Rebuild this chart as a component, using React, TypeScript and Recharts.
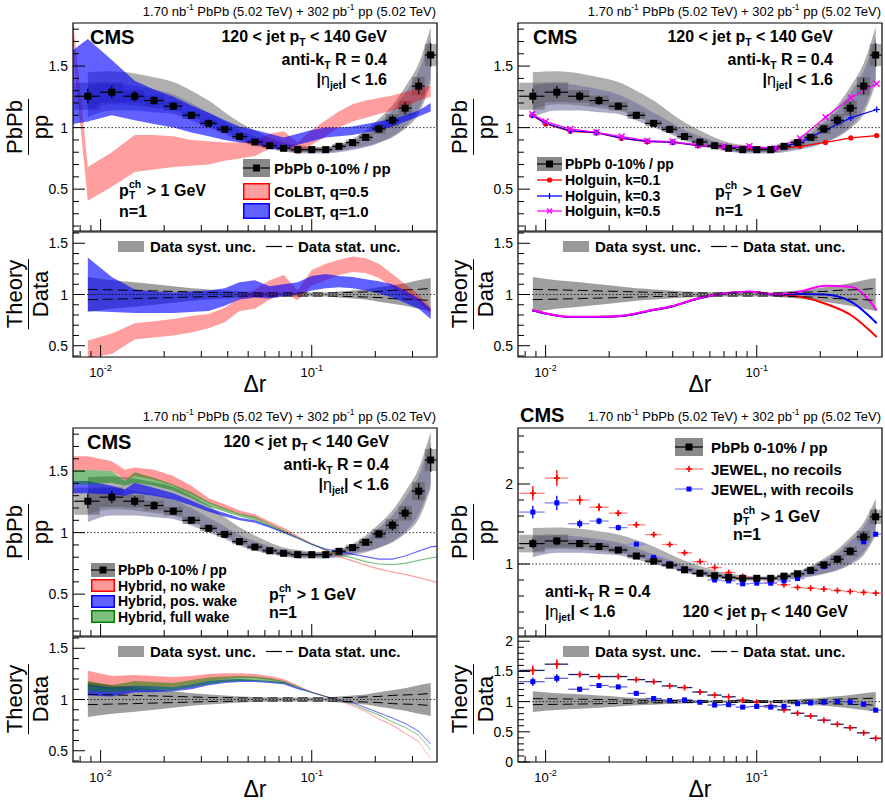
import React from "react";
import {
  ComposedChart,
  Area,
  Line,
  Scatter,
  ErrorBar,
  XAxis,
  YAxis,
  ReferenceLine,
  ReferenceArea,
} from "recharts";

const FONT = '"Liberation Sans", Arial, Helvetica, sans-serif';
const W = 445;
const MAIN_H = 232;
const RATIO_H = 184;
const X_DOMAIN = [0.0074, 0.392];

// Δr binning
const binEdges = [0.0075, 0.0099, 0.0128, 0.0161, 0.0199, 0.0244, 0.0296, 0.0355, 0.042, 0.0495, 0.0584, 0.0683, 0.0795, 0.0926, 0.108, 0.125, 0.145, 0.168, 0.194, 0.224, 0.258, 0.298, 0.343, 0.39];
const binCenters = [0.0087, 0.0113, 0.0145, 0.0179, 0.0221, 0.0269, 0.0325, 0.0387, 0.0455, 0.0538, 0.0632, 0.0736, 0.0858, 0.1, 0.1165, 0.1346, 0.156, 0.18, 0.208, 0.241, 0.277, 0.321, 0.366];
const xTicks = [0.008, 0.009, 0.01, 0.02, 0.03, 0.04, 0.05, 0.06, 0.07, 0.08, 0.09, 0.1, 0.2, 0.3];

// PbPb 0-10% / pp
const pbpb = [1.255, 1.288, 1.255, 1.22, 1.174, 1.1, 1.035, 0.986, 0.927, 0.883, 0.853, 0.832, 0.821, 0.821, 0.821, 0.848, 0.878, 0.921, 0.989, 1.06, 1.158, 1.337, 1.59];
const pbpbStat = [0.06, 0.05, 0.04, 0.035, 0.03, 0.025, 0.02, 0.018, 0.015, 0.013, 0.013, 0.012, 0.012, 0.012, 0.012, 0.014, 0.017, 0.022, 0.03, 0.04, 0.05, 0.065, 0.095];
const pbpbBox = [0.11, 0.08, 0.05, 0.04, 0.035, 0.03, 0.025, 0.02, 0.02, 0.02, 0.018, 0.018, 0.018, 0.018, 0.018, 0.02, 0.025, 0.03, 0.04, 0.05, 0.06, 0.075, 0.09];
const greyLo = [1.15, 1.19, 1.18, 1.16, 1.14, 1.09, 1.03, 0.97, 0.91, 0.865, 0.835, 0.815, 0.8, 0.8, 0.8, 0.81, 0.83, 0.85, 0.88, 0.92, 0.99, 1.11, 1.356];
const greyHi = [1.45, 1.457, 1.44, 1.41, 1.37, 1.3, 1.22, 1.125, 1.043, 0.976, 0.92, 0.88, 0.86, 0.845, 0.845, 0.867, 0.908, 0.976, 1.07, 1.18, 1.33, 1.52, 1.82];
const slateLo = [1.084, 1.14, 1.14, 1.125, 1.11, 1.057, 1.0, 0.95, 0.894, 0.853, 0.826, 0.807, 0.79, 0.79, 0.79, 0.8, 0.818, 0.84, 0.875, 0.93, 1.01, 1.15, 1.4];
const slateHi = [1.34, 1.36, 1.34, 1.31, 1.27, 1.2, 1.12, 1.05, 0.98, 0.93, 0.89, 0.86, 0.845, 0.835, 0.835, 0.855, 0.89, 0.95, 1.04, 1.14, 1.28, 1.46, 1.74];

// Theory/Data reference bands
const ratioSysLo = [0.83, 0.86, 0.88, 0.9, 0.92, 0.94, 0.95, 0.96, 0.97, 0.975, 0.98, 0.98, 0.98, 0.98, 0.98, 0.97, 0.96, 0.95, 0.93, 0.91, 0.89, 0.86, 0.84];
const ratioSysHi = [1.17, 1.14, 1.12, 1.1, 1.08, 1.06, 1.05, 1.04, 1.03, 1.025, 1.02, 1.02, 1.02, 1.02, 1.02, 1.03, 1.04, 1.05, 1.07, 1.09, 1.11, 1.14, 1.16];
const ratioStatLo = [0.95, 0.955, 0.96, 0.965, 0.97, 0.975, 0.98, 0.982, 0.984, 0.985, 0.985, 0.985, 0.985, 0.985, 0.985, 0.983, 0.98, 0.975, 0.97, 0.96, 0.955, 0.95, 0.94];
const ratioStatHi = [1.05, 1.045, 1.04, 1.035, 1.03, 1.025, 1.02, 1.018, 1.016, 1.015, 1.015, 1.015, 1.015, 1.015, 1.015, 1.017, 1.02, 1.025, 1.03, 1.04, 1.045, 1.05, 1.06];

// CoLBT
const colbtX = [0.0074, 0.0087, 0.0113, 0.0145, 0.0179, 0.0221, 0.0269, 0.0325, 0.0387, 0.0455, 0.0538, 0.0632, 0.0736, 0.0858, 0.1, 0.1165, 0.1346, 0.156, 0.18, 0.208, 0.241, 0.277, 0.321, 0.366];
const colbt05Lo = [1.62, 0.405, 0.52, 0.64, 0.66, 0.68, 0.69, 0.7, 0.73, 0.75, 0.77, 0.83, 0.87, 0.78, 0.86, 0.93, 1.0, 1.05, 1.08, 1.11, 1.14, 1.17, 1.22, 1.25];
const colbt05Hi = [1.88, 0.68, 0.8, 0.94, 0.94, 0.93, 0.9, 0.89, 0.88, 0.88, 0.9, 0.95, 0.97, 0.88, 0.98, 1.06, 1.13, 1.19, 1.22, 1.24, 1.26, 1.29, 1.32, 1.34];
const colbt10Lo = [1.03, 1.05, 1.1, 1.06, 1.03, 1.0, 0.96, 0.93, 0.9, 0.88, 0.87, 0.83, 0.82, 0.86, 0.89, 0.92, 0.93, 0.94, 0.96, 0.98, 1.01, 1.05, 1.09, 1.13];
const colbt10Hi = [1.63, 1.72, 1.55, 1.38, 1.31, 1.25, 1.18, 1.12, 1.06, 1.01, 0.98, 0.95, 0.92, 0.95, 0.98, 1.0, 1.0, 1.01, 1.03, 1.05, 1.07, 1.1, 1.14, 1.2];
const colbt05RatioLo = [0.38, 0.42, 0.56, 0.58, 0.6, 0.63, 0.67, 0.73, 0.84, 0.86, 0.95, 1.02, 0.945, 1.09, 1.14, 1.19, 1.22, 1.21, 1.16, 1.07, 0.99, 0.93, 0.81];
const colbt05RatioHi = [0.55, 0.62, 0.72, 0.74, 0.76, 0.79, 0.81, 0.87, 0.97, 1.05, 1.14, 1.19, 1.04, 1.24, 1.3, 1.34, 1.37, 1.355, 1.3, 1.2, 1.1, 1.0, 0.87];
const colbt10RatioLo = [0.84, 0.83, 0.82, 0.82, 0.82, 0.83, 0.84, 0.89, 0.95, 0.97, 0.96, 0.98, 1.0, 1.04, 1.06, 1.07, 1.06, 1.04, 1.01, 0.97, 0.92, 0.86, 0.76];
const colbt10RatioHi = [1.36, 1.17, 1.05, 1.03, 1.02, 1.03, 1.04, 1.06, 1.12, 1.14, 1.08, 1.1, 1.12, 1.18, 1.2, 1.18, 1.17, 1.15, 1.13, 1.1, 1.04, 0.96, 0.86];

// Holguin
const holguinX = [0.00865, 0.01, 0.0131, 0.0174, 0.0229, 0.0303, 0.04, 0.0527, 0.07, 0.0923, 0.1217, 0.1605, 0.2115, 0.279, 0.37];
const holguinK01 = [1.098, 1.03, 0.97, 0.957, 0.913, 0.886, 0.88, 0.853, 0.84, 0.84, 0.826, 0.848, 0.88, 0.916, 0.935];
const holguinK03 = [1.1, 1.035, 0.975, 0.96, 0.915, 0.888, 0.882, 0.855, 0.843, 0.84, 0.83, 0.88, 0.981, 1.079, 1.147];
const holguinK05 = [1.109, 1.049, 0.989, 0.962, 0.927, 0.894, 0.886, 0.859, 0.848, 0.848, 0.832, 0.913, 1.084, 1.242, 1.356];
const holguinK01Ratio = [0.846, 0.814, 0.78, 0.78, 0.79, 0.837, 0.886, 0.96, 1.01, 1.026, 1.0, 0.977, 0.91, 0.8, 0.585];
const holguinK03Ratio = [0.846, 0.814, 0.78, 0.78, 0.79, 0.837, 0.886, 0.96, 1.01, 1.026, 1.0, 1.006, 1.0, 0.93, 0.72];
const holguinK05Ratio = [0.85, 0.818, 0.783, 0.783, 0.793, 0.84, 0.889, 0.963, 1.013, 1.028, 1.003, 1.03, 1.085, 1.075, 0.846];

// Hybrid
const hybX = [0.0074, 0.0087, 0.0113, 0.013, 0.0145, 0.0179, 0.0221, 0.0269, 0.0325, 0.0387, 0.0455, 0.0538, 0.0632, 0.0736, 0.0858, 0.1, 0.1165, 0.1346, 0.156, 0.18, 0.208, 0.241, 0.277, 0.321, 0.366, 0.392];
const hybNoWakeLo = [1.51, 1.51, 1.5, 1.43, 1.46, 1.43, 1.38, 1.31, 1.24, 1.19, 1.15, 1.12, 1.065, 1.01, 0.96, 0.905, 0.85, 0.8, 0.765, 0.73, 0.7, 0.675, 0.655, 0.63, 0.605, 0.59];
const hybNoWakeHi = [1.62, 1.62, 1.58, 1.51, 1.53, 1.51, 1.46, 1.38, 1.28, 1.23, 1.18, 1.15, 1.09, 1.04, 0.975, 0.915, 0.86, 0.81, 0.775, 0.74, 0.71, 0.685, 0.665, 0.64, 0.615, 0.6];
const hybPosLo = [1.32, 1.32, 1.31, 1.3, 1.32, 1.3, 1.27, 1.22, 1.17, 1.13, 1.1, 1.08, 1.04, 0.995, 0.95, 0.9, 0.86, 0.84, 0.82, 0.8, 0.78, 0.78, 0.805, 0.845, 0.88, 0.885];
const hybPosHi = [1.42, 1.42, 1.38, 1.35, 1.405, 1.365, 1.32, 1.26, 1.2, 1.16, 1.12, 1.1, 1.055, 1.01, 0.96, 0.91, 0.87, 0.85, 0.83, 0.81, 0.79, 0.79, 0.815, 0.855, 0.89, 0.895];
const hybFullLo = [1.39, 1.39, 1.405, 1.38, 1.405, 1.38, 1.34, 1.28, 1.21, 1.17, 1.13, 1.1, 1.05, 1.0, 0.955, 0.9, 0.855, 0.815, 0.79, 0.76, 0.74, 0.735, 0.745, 0.77, 0.79, 0.795];
const hybFullHi = [1.51, 1.51, 1.5, 1.42, 1.49, 1.445, 1.39, 1.33, 1.25, 1.2, 1.155, 1.13, 1.07, 1.02, 0.965, 0.91, 0.865, 0.825, 0.8, 0.77, 0.75, 0.745, 0.755, 0.78, 0.8, 0.805];
const hybNoWakeRatioLo = [1.13, 1.1, 1.12, 1.12, 1.12, 1.15, 1.18, 1.2, 1.21, 1.21, 1.19, 1.17, 1.125, 1.065, 1.025, 0.985, 0.935, 0.88, 0.805, 0.745, 0.665, 0.585, 0.415];
const hybNoWakeRatioHi = [1.28, 1.23, 1.24, 1.23, 1.22, 1.23, 1.25, 1.255, 1.255, 1.25, 1.23, 1.2, 1.14, 1.075, 1.035, 0.995, 0.945, 0.89, 0.815, 0.755, 0.675, 0.595, 0.425];
const hybPosRatioLo = [1.04, 1.03, 1.07, 1.07, 1.08, 1.1, 1.14, 1.16, 1.17, 1.17, 1.16, 1.15, 1.1, 1.065, 1.025, 0.985, 0.965, 0.915, 0.865, 0.815, 0.76, 0.685, 0.56];
const hybPosRatioHi = [1.15, 1.12, 1.135, 1.13, 1.12, 1.15, 1.18, 1.195, 1.2, 1.19, 1.18, 1.17, 1.12, 1.075, 1.035, 0.995, 0.975, 0.925, 0.875, 0.825, 0.77, 0.695, 0.57];
const hybFullRatioLo = [1.08, 1.07, 1.09, 1.09, 1.09, 1.12, 1.15, 1.17, 1.18, 1.18, 1.17, 1.155, 1.115, 1.06, 1.025, 0.985, 0.95, 0.895, 0.845, 0.775, 0.725, 0.645, 0.505];
const hybFullRatioHi = [1.18, 1.14, 1.18, 1.17, 1.16, 1.19, 1.215, 1.225, 1.23, 1.225, 1.21, 1.18, 1.13, 1.07, 1.035, 0.995, 0.96, 0.905, 0.855, 0.785, 0.735, 0.655, 0.515];

// JEWEL
const jewelNoRec = [1.884, 2.074, 1.8, 1.71, 1.636, 1.49, 1.368, 1.244, 1.14, 1.03, 0.955, 0.893, 0.843, 0.815, 0.77, 0.74, 0.707, 0.698, 0.686, 0.669, 0.657, 0.645, 0.636];
const jewelNoRecErr = [0.09, 0.1, 0.06, 0.05, 0.04, 0.03, 0.025, 0.02, 0.02, 0.018, 0.015, 0.015, 0.012, 0.012, 0.01, 0.01, 0.01, 0.01, 0.01, 0.01, 0.01, 0.01, 0.01];
const jewelRec = [1.649, 1.764, 1.504, 1.537, 1.455, 1.248, 1.083, 1.0, 0.934, 0.884, 0.8, 0.789, 0.752, 0.76, 0.76, 0.789, 0.818, 0.905, 0.967, 1.058, 1.153, 1.277, 1.372];
const jewelRecErr = [0.08, 0.09, 0.05, 0.04, 0.035, 0.025, 0.02, 0.02, 0.015, 0.015, 0.012, 0.012, 0.012, 0.012, 0.012, 0.012, 0.012, 0.012, 0.015, 0.015, 0.02, 0.02, 0.02];
const jewelNoRecRatio = [1.517, 1.62, 1.449, 1.415, 1.415, 1.364, 1.33, 1.26, 1.233, 1.159, 1.108, 1.08, 1.023, 0.989, 0.932, 0.864, 0.807, 0.761, 0.693, 0.625, 0.568, 0.483, 0.392];
const jewelNoRecRatioErr = [0.08, 0.08, 0.05, 0.04, 0.035, 0.03, 0.03, 0.025, 0.025, 0.025, 0.025, 0.025, 0.025, 0.025, 0.025, 0.025, 0.025, 0.025, 0.025, 0.025, 0.025, 0.025, 0.025];
const jewelRecRatio = [1.33, 1.386, 1.205, 1.267, 1.244, 1.136, 1.051, 1.017, 1.028, 0.989, 0.943, 0.949, 0.909, 0.92, 0.909, 0.92, 0.966, 0.977, 0.989, 1.0, 0.994, 0.955, 0.858];
const jewelRecRatioErr = [0.07, 0.07, 0.04, 0.035, 0.03, 0.025, 0.02, 0.02, 0.02, 0.02, 0.02, 0.02, 0.02, 0.02, 0.02, 0.02, 0.02, 0.02, 0.02, 0.02, 0.02, 0.02, 0.025];

// y axes
const topMainDomain = [0.16, 1.85];
const topMainTicks = [0.2, 0.3, 0.4, 0.5, 0.6, 0.7, 0.8, 0.9, 1, 1.1, 1.2, 1.3, 1.4, 1.5, 1.6, 1.7, 1.8];
const ratioDomain = [0.39, 1.61];
const ratioTicks = [0.4, 0.5, 0.6, 0.7, 0.8, 0.9, 1, 1.1, 1.2, 1.3, 1.4, 1.5, 1.6];
const halfLabels = [0.5, 1, 1.5];
const jewelMainDomain = [0.1, 2.7];
const jewelMainTicks = [0.2, 0.4, 0.6, 0.8, 1, 1.2, 1.4, 1.6, 1.8, 2, 2.2, 2.4, 2.6];
const jewelMainLabels = [1, 2];
const jewelRatioDomain = [0, 2.07];
const jewelRatioTicks = [0, 0.1, 0.2, 0.3, 0.4, 0.5, 0.6, 0.7, 0.8, 0.9, 1, 1.1, 1.2, 1.3, 1.4, 1.5, 1.6, 1.7, 1.8, 1.9, 2];
const jewelRatioLabels = [0, 0.5, 1, 1.5, 2];

const RED = "#ff0000";
const BLUE = "#0000ff";
const GREEN = "#008000";
const MAGENTA = "#ff00ff";

const dataRows = binCenters.map((x, i) => ({
  x,
  y: pbpb[i],
  yErr: pbpbStat[i],
  xErr: [x - binEdges[i], binEdges[i + 1] - x],
  grey: [greyLo[i], greyHi[i]],
  slate: [slateLo[i], slateHi[i]],
}));

const ratioRows = binCenters.map((x, i) => ({
  x,
  sys: [ratioSysLo[i], ratioSysHi[i]],
  statLo: ratioStatLo[i],
  statHi: ratioStatHi[i],
}));

function renderXTick(p: any, labels: boolean) {
  const v = p.payload.value;
  const e = Math.round(Math.log10(v));
  const major = Math.abs(Math.log10(v) - e) < 1e-6;
  return (
    <g>
      <line x1={p.x} x2={p.x} y1={p.y} y2={p.y - (major ? 12 : 6)} stroke="#000" strokeWidth={1} />
      {labels && major && (
        <text x={p.x} y={p.y + 20} textAnchor="middle" fontFamily={FONT} fontSize={13} fill="#000">
          10<tspan dy={-6} fontSize={9}>{String(e)}</tspan>
        </text>
      )}
    </g>
  );
}

function renderYTick(p: any, labels: number[]) {
  const v = p.payload.value;
  const major = labels.some((l) => Math.abs(l - v) < 1e-9);
  return (
    <g>
      <line x1={p.x} x2={p.x + (major ? 12 : 6)} y1={p.y} y2={p.y} stroke="#000" strokeWidth={1} />
      {major && (
        <text x={p.x - 5} y={p.y} dy="0.36em" textAnchor="end" fontFamily={FONT} fontSize={14} fill="#000">
          {String(v)}
        </text>
      )}
    </g>
  );
}

const xAxis = (labels: boolean) => (
  <XAxis
    key="xa"
    dataKey="x"
    type="number"
    scale="log"
    domain={X_DOMAIN}
    allowDataOverflow
    ticks={xTicks}
    interval={0}
    height={1}
    tickSize={0}
    tickMargin={0}
    axisLine={false}
    tickLine={false}
    tick={(p: any) => renderXTick(p, labels)}
  />
);

const yAxis = (domain: number[], ticks: number[], labels: number[]) => (
  <YAxis
    key="ya"
    type="number"
    domain={domain}
    allowDataOverflow
    ticks={ticks}
    interval={0}
    width={1}
    tickSize={0}
    tickMargin={0}
    axisLine={false}
    tickLine={false}
    tick={(p: any) => renderYTick(p, labels)}
  />
);

const frame = (d: number[]) => (
  <ReferenceArea key="frame" x1={X_DOMAIN[0]} x2={X_DOMAIN[1]} y1={d[0]} y2={d[1]} fill="none" stroke="#000" strokeWidth={1.2} ifOverflow="visible" />
);

const oneLine = () => (
  <ReferenceLine key="one" y={1} stroke="#000" strokeWidth={0.8} strokeDasharray="1.5 2" />
);

function band(key: string, xs: number[], lo: number[], hi: number[], color: string, opacity: number, curve = "linear") {
  const rows = xs.map((x, i) => ({ x, v: [lo[i], hi[i]] }));
  return (
    <Area key={key} data={rows} dataKey="v" type={curve as any} fill={color} fillOpacity={opacity} stroke="none" isAnimationActive={false} activeDot={false} />
  );
}

const squareShape = (p: any) => <rect x={p.cx - 3.5} y={p.cy - 3.5} width={7} height={7} fill="#000" />;

function dataLayer() {
  return [
    <Area key="dg" data={dataRows} dataKey="grey" type="monotone" fill="#7a7a7a" fillOpacity={0.6} stroke="none" isAnimationActive={false} activeDot={false} />,
    <Area key="ds" data={dataRows} dataKey="slate" type="monotone" fill="#6a6a9a" fillOpacity={0.55} stroke="none" isAnimationActive={false} activeDot={false} />,
    ...dataRows.map((r, i) => (
      <ReferenceArea key={"box" + i} x1={binEdges[i]} x2={binEdges[i + 1]} y1={r.y - pbpbBox[i]} y2={r.y + pbpbBox[i]} fill="#505050" fillOpacity={0.45} stroke="none" ifOverflow="hidden" />
    )),
  ];
}

function dataPoints() {
  return (
    <Scatter key="pts" data={dataRows} dataKey="y" shape={squareShape} isAnimationActive={false}>
      <ErrorBar dataKey="xErr" direction="x" width={0} stroke="#000" strokeWidth={1.2} />
      <ErrorBar dataKey="yErr" direction="y" width={0} stroke="#000" strokeWidth={1.2} />
    </Scatter>
  );
}

function MainPlot({ domain, ticks, labels, children }: any) {
  return (
    <div style={{ position: "absolute", left: 0, top: 0 }}>
      <ComposedChart width={W} height={MAIN_H} margin={{ top: 23, right: 8, bottom: 0, left: 72 }}>
        {xAxis(false)}
        {yAxis(domain, ticks, labels)}
        {dataLayer()}
        {children}
        {oneLine()}
        {dataPoints()}
        {frame(domain)}
      </ComposedChart>
    </div>
  );
}

function RatioPlot({ domain, ticks, labels, children }: any) {
  return (
    <div style={{ position: "absolute", left: 0, top: 221 }}>
      <ComposedChart width={W} height={RATIO_H} margin={{ top: 11, right: 8, bottom: 47, left: 72 }}>
        {xAxis(true)}
        {yAxis(domain, ticks, labels)}
        <Area data={ratioRows} dataKey="sys" type="monotone" fill="#999999" fillOpacity={0.95} stroke="none" isAnimationActive={false} activeDot={false} />
        {children}
        <Line data={ratioRows} dataKey="statHi" type="monotone" stroke="#000" strokeWidth={1} strokeDasharray="10 5" dot={false} activeDot={false} isAnimationActive={false} />
        <Line data={ratioRows} dataKey="statLo" type="monotone" stroke="#000" strokeWidth={1} strokeDasharray="10 5" dot={false} activeDot={false} isAnimationActive={false} />
        {oneLine()}
        {frame(domain)}
      </ComposedChart>
    </div>
  );
}

// markers
const circleDot = (color: string) => (p: any) => <circle key={p.index} cx={p.cx} cy={p.cy} r={2.6} fill={color} />;
const plusDot = (color: string, s = 3.5, w = 1.5) => (p: any) => (
  <g key={p.index}>
    <line x1={p.cx - s} x2={p.cx + s} y1={p.cy} y2={p.cy} stroke={color} strokeWidth={w} />
    <line x1={p.cx} x2={p.cx} y1={p.cy - s} y2={p.cy + s} stroke={color} strokeWidth={w} />
  </g>
);
const crossDot = (color: string) => (p: any) => (
  <g key={p.index}>
    <line x1={p.cx - 3} x2={p.cx + 3} y1={p.cy - 3} y2={p.cy + 3} stroke={color} strokeWidth={1.5} />
    <line x1={p.cx - 3} x2={p.cx + 3} y1={p.cy + 3} y2={p.cy - 3} stroke={color} strokeWidth={1.5} />
  </g>
);
const smallSquare = (color: string) => (p: any) => <rect x={p.cx - 2.5} y={p.cy - 2.5} width={5} height={5} fill={color} />;

function holguinLine(key: string, ys: number[], color: string, dot: any, width: number, curve: string) {
  const rows = holguinX.map((x, i) => ({ x, v: ys[i] }));
  return (
    <Line key={key} data={rows} dataKey="v" type={curve as any} stroke={color} strokeWidth={width} dot={dot} activeDot={false} isAnimationActive={false} />
  );
}

function jewelPoints(key: string, ys: number[], errs: number[], color: string, hColor: string, shape: any) {
  const rows = binCenters.map((x, i) => ({ x, y: ys[i], yErr: errs[i], xErr: [x - binEdges[i], binEdges[i + 1] - x] }));
  return (
    <Scatter key={key} data={rows} dataKey="y" shape={shape} isAnimationActive={false}>
      <ErrorBar dataKey="xErr" direction="x" width={0} stroke={hColor} strokeWidth={1.3} />
      <ErrorBar dataKey="yErr" direction="y" width={0} stroke={color} strokeWidth={1.3} />
    </Scatter>
  );
}

// ---------- text helpers ----------
function Txt({ x, y, anchor = "start", size = 16, bold = true, children }: any) {
  const style: any = {
    position: "absolute",
    top: y,
    whiteSpace: "nowrap",
    fontFamily: FONT,
    fontSize: size,
    fontWeight: bold ? 700 : 400,
    lineHeight: 1,
    color: "#000",
  };
  if (anchor === "end") {
    style.right = W - x;
    style.transform = "translateY(-50%)";
  } else if (anchor === "middle") {
    style.left = x;
    style.transform = "translate(-50%,-50%)";
  } else {
    style.left = x;
    style.transform = "translateY(-50%)";
  }
  return <div style={style}>{children}</div>;
}

const Sub = ({ children }: any) => (
  <span style={{ fontSize: "0.65em", verticalAlign: "-0.35em", lineHeight: 0 }}>{children}</span>
);
const Sup = ({ children }: any) => (
  <span style={{ fontSize: "0.65em", verticalAlign: "0.65em", lineHeight: 0 }}>{children}</span>
);
const SupSub = ({ sup, sub }: any) => (
  <span style={{ position: "relative", display: "inline-block", width: "0.85em", height: 0 }}>
    <span style={{ position: "absolute", left: "0.03em", bottom: "0.5em", fontSize: "0.65em", lineHeight: 1 }}>{sup}</span>
    <span style={{ position: "absolute", left: "0.03em", top: "-0.5em", fontSize: "0.65em", lineHeight: 1 }}>{sub}</span>
  </span>
);

function Frac({ cx, cy, num, den, size = 22 }: any) {
  return (
    <div
      style={{
        position: "absolute",
        left: cx,
        top: cy,
        transform: "translate(-50%,-50%) rotate(-90deg)",
        fontFamily: FONT,
        fontSize: size,
        lineHeight: 1,
        textAlign: "center",
        whiteSpace: "nowrap",
      }}
    >
      <div style={{ padding: "0 1px 2px" }}>{num}</div>
      <div style={{ borderTop: "1.5px solid #000", paddingTop: 1 }}>{den}</div>
    </div>
  );
}

function Icon({ x, cy, w = 27, h = 18, children }: any) {
  return (
    <svg style={{ position: "absolute", left: x, top: cy - h / 2 }} width={w} height={h}>
      {children}
    </svg>
  );
}

const DataIcon = ({ x, cy, w = 27, h = 18 }: any) => (
  <Icon x={x} cy={cy} w={w} h={h}>
    <rect x={0} y={0} width={w} height={h} fill="#8a8a8a" />
    <line x1={0} x2={w} y1={h / 2} y2={h / 2} stroke="#000" strokeWidth={1.2} />
    <rect x={w / 2 - 3.5} y={h / 2 - 3.5} width={7} height={7} fill="#000" />
  </Icon>
);
const BandIcon = ({ x, cy, color, opacity, w = 27, h = 18 }: any) => (
  <Icon x={x} cy={cy} w={w} h={h}>
    <rect x={0.75} y={0.75} width={w - 1.5} height={h - 1.5} fill={color} fillOpacity={opacity} stroke={color} strokeWidth={1.5} />
  </Icon>
);

function Common({ cmsX = 89, cmsY = 37, lumiY = 11 }: any) {
  return (
    <>
      <Frac cx={28} cy={127} num="PbPb" den="pp" />
      <Frac cx={28} cy={294} num="Theory" den="Data" />
      <Txt x={255} y={384} anchor="middle" size={23} bold={false}>Δr</Txt>
      <Txt x={436} y={lumiY} anchor="end" size={13} bold={false}>
        1.70 nb<Sup>-1</Sup> PbPb (5.02 TeV) + 302 pb<Sup>-1</Sup> pp (5.02 TeV)
      </Txt>
      <Txt x={cmsX} y={cmsY} size={20}>CMS</Txt>
      <Icon x={118} cy={246} w={26} h={11}>
        <rect x={0} y={0} width={26} height={11} fill="#999999" />
      </Icon>
      <Txt x={150} y={246} size={15}>Data syst. unc.</Txt>
      <Icon x={266} cy={246} w={28} h={11}>
        <line x1={0} x2={16} y1={5.5} y2={5.5} stroke="#000" strokeWidth={1.2} />
        <line x1={20} x2={27} y1={5.5} y2={5.5} stroke="#000" strokeWidth={1.2} />
      </Icon>
      <Txt x={298} y={246} size={15}>Data stat. unc.</Txt>
    </>
  );
}

const JetPt = () => (
  <>
    120 &lt; jet p<Sub>T</Sub> &lt; 140 GeV
  </>
);
const AntiKt = () => (
  <>
    anti-k<Sub>T</Sub> R = 0.4
  </>
);
const Eta = () => (
  <>
    |<span style={{ fontWeight: 400 }}>η</span>
    <Sub>jet</Sub>| &lt; 1.6
  </>
);
const PtCh = () => (
  <>
    p<SupSub sup="ch" sub="T" /> &gt; 1 GeV
  </>
);

function Kinematics({ right }: any) {
  return (
    <>
      <Txt x={right} y={37} anchor="end"><JetPt /></Txt>
      <Txt x={right} y={60} anchor="end"><AntiKt /></Txt>
      <Txt x={right} y={80} anchor="end"><Eta /></Txt>
    </>
  );
}

function panelStyle(left: number, top: number): any {
  return { position: "absolute", left, top, width: W, height: 405 };
}

function PanelColbt() {
  return (
    <div style={panelStyle(0, 0)}>
      <MainPlot domain={topMainDomain} ticks={topMainTicks} labels={halfLabels}>
        {band("c05", colbtX, colbt05Lo, colbt05Hi, RED, 0.38)}
        {band("c10", colbtX, colbt10Lo, colbt10Hi, BLUE, 0.62)}
      </MainPlot>
      <RatioPlot domain={ratioDomain} ticks={ratioTicks} labels={halfLabels}>
        {band("c05r", binCenters, colbt05RatioLo, colbt05RatioHi, RED, 0.38)}
        {band("c10r", binCenters, colbt10RatioLo, colbt10RatioHi, BLUE, 0.62)}
      </RatioPlot>
      <Common cmsX={90} />
      <Kinematics right={387} />
      <DataIcon x={243} cy={168} />
      <Txt x={274} y={168} size={15}>PbPb 0-10% / pp</Txt>
      <BandIcon x={243} cy={191} color={RED} opacity={0.38} h={17} />
      <Txt x={274} y={191} size={15}>CoLBT, q=0.5</Txt>
      <BandIcon x={243} cy={211} color={BLUE} opacity={0.62} h={16} />
      <Txt x={274} y={211} size={15}>CoLBT, q=1.0</Txt>
      <Txt x={119} y={191}><PtCh /></Txt>
      <Txt x={119} y={212}>n=1</Txt>
    </div>
  );
}

function PanelHolguin() {
  return (
    <div style={panelStyle(445, 0)}>
      <MainPlot domain={topMainDomain} ticks={topMainTicks} labels={halfLabels}>
        {holguinLine("h1", holguinK01, RED, circleDot(RED), 1.2, "linear")}
        {holguinLine("h3", holguinK03, BLUE, plusDot(BLUE, 3, 1.3), 1.2, "linear")}
        {holguinLine("h5", holguinK05, MAGENTA, crossDot(MAGENTA), 1.2, "linear")}
      </MainPlot>
      <RatioPlot domain={ratioDomain} ticks={ratioTicks} labels={halfLabels}>
        {holguinLine("h1r", holguinK01Ratio, RED, false, 2, "monotone")}
        {holguinLine("h3r", holguinK03Ratio, BLUE, false, 2, "monotone")}
        {holguinLine("h5r", holguinK05Ratio, MAGENTA, false, 2, "monotone")}
      </RatioPlot>
      <Common cmsX={88} />
      <Kinematics right={388} />
      <DataIcon x={92} cy={164} w={25} h={14} />
      <Txt x={120} y={164} size={14}>PbPb 0-10% / pp</Txt>
      <Icon x={92} cy={180} w={25} h={10}>
        <line x1={0} x2={25} y1={5} y2={5} stroke={RED} strokeWidth={1.3} />
        <circle cx={12.5} cy={5} r={2.6} fill={RED} />
      </Icon>
      <Txt x={120} y={180} size={14}>Holguin, k=0.1</Txt>
      <Icon x={92} cy={195.5} w={25} h={10}>
        <line x1={0} x2={25} y1={5} y2={5} stroke={BLUE} strokeWidth={1.3} />
        <line x1={12.5} x2={12.5} y1={2} y2={8} stroke={BLUE} strokeWidth={1.3} />
      </Icon>
      <Txt x={120} y={195.5} size={14}>Holguin, k=0.3</Txt>
      <Icon x={92} cy={211} w={25} h={10}>
        <line x1={0} x2={25} y1={5} y2={5} stroke={MAGENTA} strokeWidth={1.3} />
        <line x1={10} x2={15} y1={2.5} y2={7.5} stroke={MAGENTA} strokeWidth={1.5} />
        <line x1={10} x2={15} y1={7.5} y2={2.5} stroke={MAGENTA} strokeWidth={1.5} />
      </Icon>
      <Txt x={120} y={211} size={14}>Holguin, k=0.5</Txt>
      <Txt x={270} y={192}><PtCh /></Txt>
      <Txt x={270} y={211}>n=1</Txt>
    </div>
  );
}

function PanelHybrid() {
  return (
    <div style={panelStyle(0, 405)}>
      <MainPlot domain={topMainDomain} ticks={topMainTicks} labels={halfLabels}>
        {band("hn", hybX, hybNoWakeLo, hybNoWakeHi, RED, 0.4)}
        {band("hp", hybX, hybPosLo, hybPosHi, BLUE, 0.62)}
        {band("hf", hybX, hybFullLo, hybFullHi, GREEN, 0.5)}
      </MainPlot>
      <RatioPlot domain={ratioDomain} ticks={ratioTicks} labels={halfLabels}>
        {band("hnr", binCenters, hybNoWakeRatioLo, hybNoWakeRatioHi, RED, 0.4)}
        {band("hpr", binCenters, hybPosRatioLo, hybPosRatioHi, BLUE, 0.62)}
        {band("hfr", binCenters, hybFullRatioLo, hybFullRatioHi, GREEN, 0.5)}
      </RatioPlot>
      <Common cmsX={87} />
      <Kinematics right={389} />
      <DataIcon x={91} cy={165} w={24} h={14} />
      <Txt x={118} y={165} size={14}>PbPb 0-10% / pp</Txt>
      <BandIcon x={91} cy={180.5} color={RED} opacity={0.4} w={24} h={13} />
      <Txt x={118} y={180.5} size={14}>Hybrid, no wake</Txt>
      <BandIcon x={91} cy={196} color={BLUE} opacity={0.62} w={24} h={13} />
      <Txt x={118} y={196} size={14}>Hybrid, pos. wake</Txt>
      <BandIcon x={91} cy={211.5} color={GREEN} opacity={0.5} w={24} h={13} />
      <Txt x={118} y={211.5} size={14}>Hybrid, full wake</Txt>
      <Txt x={269} y={190}><PtCh /></Txt>
      <Txt x={269} y={208}>n=1</Txt>
    </div>
  );
}

function PanelJewel() {
  return (
    <div style={panelStyle(445, 405)}>
      <MainPlot domain={jewelMainDomain} ticks={jewelMainTicks} labels={jewelMainLabels}>
        {jewelPoints("jn", jewelNoRec, jewelNoRecErr, RED, "#ff8080", plusDot(RED, 3, 1.6))}
        {jewelPoints("jr", jewelRec, jewelRecErr, BLUE, "#8080ff", smallSquare(BLUE))}
      </MainPlot>
      <RatioPlot domain={jewelRatioDomain} ticks={jewelRatioTicks} labels={jewelRatioLabels}>
        {jewelPoints("jnr", jewelNoRecRatio, jewelNoRecRatioErr, RED, "#202070", plusDot(RED, 3, 1.6))}
        {jewelPoints("jrr", jewelRecRatio, jewelRecRatioErr, BLUE, "#6060d0", smallSquare(BLUE))}
      </RatioPlot>
      <Common cmsX={75} cmsY={10} />
      <DataIcon x={230} cy={42} w={28} h={18} />
      <Txt x={266} y={42} size={15}>PbPb 0-10% / pp</Txt>
      <Icon x={230} cy={64} w={28} h={10}>
        <line x1={0} x2={28} y1={5} y2={5} stroke="#ff8080" strokeWidth={1.3} />
        <line x1={11} x2={17} y1={5} y2={5} stroke={RED} strokeWidth={1.6} />
        <line x1={14} x2={14} y1={2} y2={8} stroke={RED} strokeWidth={1.6} />
      </Icon>
      <Txt x={266} y={64} size={15}>JEWEL, no recoils</Txt>
      <Icon x={230} cy={84} w={28} h={10}>
        <line x1={0} x2={28} y1={5} y2={5} stroke="#8080ff" strokeWidth={1.3} />
        <rect x={11.5} y={2.5} width={5} height={5} fill={BLUE} />
      </Icon>
      <Txt x={266} y={84} size={15}>JEWEL, with recoils</Txt>
      <Txt x={288} y={112}><PtCh /></Txt>
      <Txt x={288} y={130}>n=1</Txt>
      <Txt x={100} y={187}><AntiKt /></Txt>
      <Txt x={100} y={207}><Eta /></Txt>
      <Txt x={403} y={207} anchor="end"><JetPt /></Txt>
    </div>
  );
}

export default function App() {
  return (
    <div
      style={{
        position: "absolute",
        left: 0,
        top: 0,
        width: 885,
        height: 800,
        overflow: "hidden",
        background: "#fff",
        fontFamily: FONT,
      }}
    >
      <PanelColbt />
      <PanelHolguin />
      <PanelHybrid />
      <PanelJewel />
    </div>
  );
}
